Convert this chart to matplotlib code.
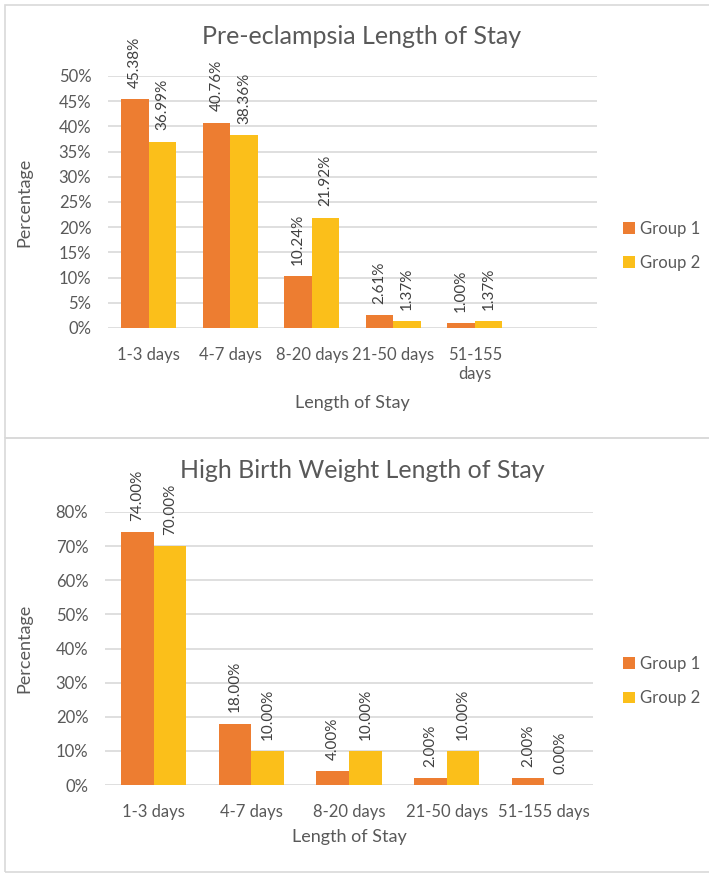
import numpy as np
import matplotlib.pyplot as plt
from matplotlib.patches import Rectangle
from matplotlib.ticker import FuncFormatter

plt.rcParams['font.family'] = ['Lato', 'DejaVu Sans']

ORANGE = '#ED7D31'
GOLD = '#FBBF1A'
TXT = '#595959'
GRID = '#D9D9D9'

# pre-eclampsia panel
pe_cats = ['1-3 days', '4-7 days', '8-20 days', '21-50 days', '51-155\ndays']
pe_g1 = [45.38, 40.76, 10.24, 2.61, 1.00]
pe_g2 = [36.99, 38.36, 21.92, 1.37, 1.37]

# high birth weight panel
hbw_cats = ['1-3 days', '4-7 days', '8-20 days', '21-50 days', '51-155 days']
hbw_g1 = [74.00, 18.00, 4.00, 2.00, 2.00]
hbw_g2 = [70.00, 10.00, 10.00, 10.00, 0.00]

groups = ['Group 1', 'Group 2']

W, H = 709, 873
fig = plt.figure(figsize=(W/100, H/100), dpi=100)

# light frames round each chart
fig.patches.append(Rectangle((5/W, 1-438/H), 720/W, 433/H, transform=fig.transFigure,
                             fill=False, edgecolor='#D9D9D9', lw=1.2))
fig.patches.append(Rectangle((5/W, 1-872/H), 720/W, 434/H, transform=fig.transFigure,
                             fill=False, edgecolor='#D9D9D9', lw=1.2))


def draw(ax, cats, g1, g2, ymax, ystep, nslots, title, title_y, xlab_y, ylab_x, legend_y):
    x = np.arange(len(cats))
    bw = 0.335
    b1 = ax.bar(x - bw/2, g1, bw, color=ORANGE, label=groups[0], zorder=2)
    b2 = ax.bar(x + bw/2, g2, bw, color=GOLD, label=groups[1], zorder=2)
    for bars, vals in ((b1, g1), (b2, g2)):
        for b, v in zip(bars, vals):
            ax.annotate(f'{v:.2f}%', (b.get_x() + b.get_width()/2, v),
                        xytext=(0, 8), textcoords='offset points',
                        rotation=90, ha='center', va='bottom',
                        fontsize=11, color='#404040')
    ax.set_xlim(-0.5, nslots - 0.5)
    ax.set_ylim(0, ymax)
    ax.set_yticks(np.arange(0, ymax + 0.1, ystep))
    ax.yaxis.set_major_formatter(FuncFormatter(lambda v, p: f'{v:.0f}%'))
    ax.set_xticks(x)
    ax.set_xticklabels(cats)
    ax.tick_params(axis='x', pad=14)
    ax.tick_params(axis='y', pad=12)
    ax.tick_params(length=0, labelsize=12, colors=TXT)
    ax.grid(axis='y', color=GRID, lw=1.2, zorder=0)
    for s in ax.spines.values():
        s.set_visible(False)
    ax.set_ylabel('Percentage', fontsize=13, color=TXT)
    ax.set_xlabel('Length of Stay', fontsize=13, color=TXT)
    ax.yaxis.set_label_coords(ylab_x, 0.5)
    ax.xaxis.set_label_coords(0.5, xlab_y)
    ax.xaxis.label.set_va('center')
    ax.yaxis.label.set_va('center')
    fig.text(362/W, title_y, title, fontsize=18, color=TXT, ha='center', va='center')
    fig.legend(handles=[b1, b2], loc='center left', frameon=False,
               bbox_to_anchor=(623/W, legend_y), borderaxespad=0, borderpad=0,
               fontsize=12, labelcolor=TXT,
               handlelength=0.7, handleheight=0.7, handletextpad=0.3,
               labelspacing=1.1)


ax1 = fig.add_axes([108/W, 1-328/H, 489/W, 252/H])
draw(ax1, pe_cats, pe_g1, pe_g2, 50, 5, 6, 'Pre-eclampsia Length of Stay',
     1-37/H, (328-403)/252, (24-108)/489, 1-246/H)

ax2 = fig.add_axes([105/W, 1-785/H, 488/W, 273/H])
draw(ax2, hbw_cats, hbw_g1, hbw_g2, 80, 10, 5, 'High Birth Weight Length of Stay',
     1-470/H, (785-837)/273, (24-105)/488, 1-681/H)

fig.savefig('out.png', dpi=100, facecolor='white')
